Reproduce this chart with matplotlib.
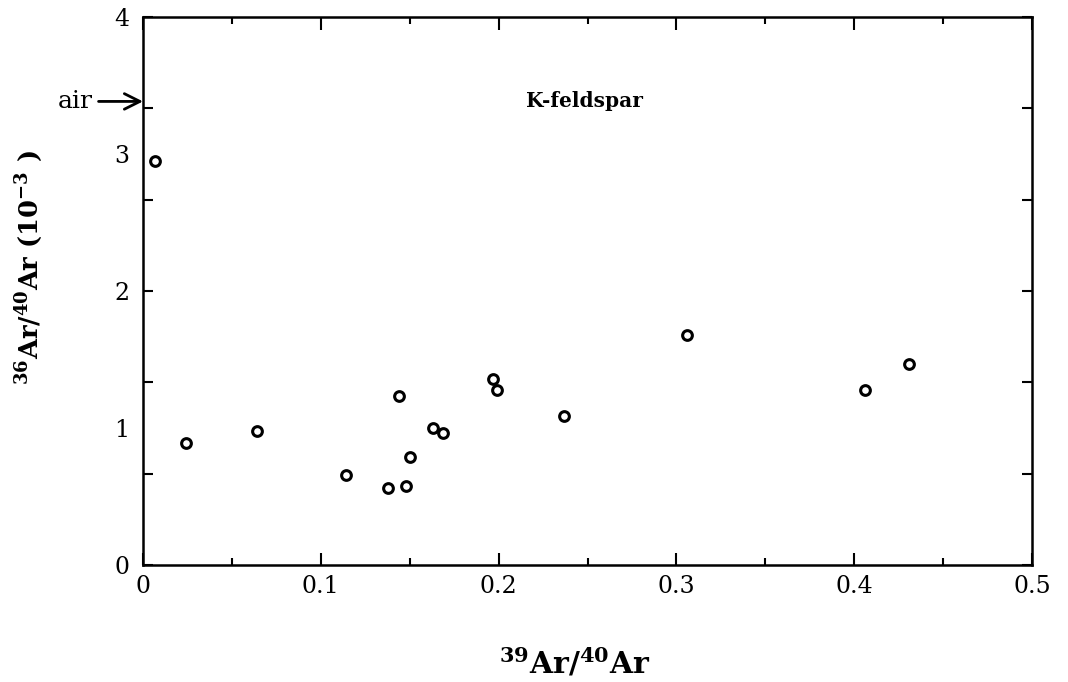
import numpy as np
import matplotlib
matplotlib.use("Agg")
import matplotlib.pyplot as plt
from matplotlib.ticker import FixedLocator, MultipleLocator

plt.rcParams['font.family'] = ['DejaVu Serif']
plt.rcParams['mathtext.fontset'] = 'dejavuserif'
plt.rcParams['mathtext.default'] = 'bf'

# data: 39Ar/40Ar vs 36Ar/40Ar (10^-3)
x_vals = [0.007, 0.024, 0.064, 0.114, 0.138, 0.144, 0.148, 0.150, 0.163, 0.169,
          0.197, 0.199, 0.237, 0.306, 0.406, 0.431]
y_vals = [2.95, 0.89, 0.98, 0.66, 0.56, 1.23, 0.58, 0.79, 1.00, 0.96,
          1.36, 1.28, 1.09, 1.68, 1.28, 1.47]
air_value = 3.384
x_ticks = [0, 0.1, 0.2, 0.3, 0.4, 0.5]
x_tick_labels = ['0', '0.1', '0.2', '0.3', '0.4', '0.5']
y_ticks = [0, 1, 2, 3, 4]
y_tick_labels = ['0', '1', '2', '3', '4']

fig = plt.figure(figsize=(10.68, 6.82), dpi=100)
ax = fig.add_axes([0.1339, 0.1716, 0.8324, 0.8034])

ax.plot(x_vals, y_vals, linestyle='none', marker='o', ms=7, mfc='white',
        mec='black', mew=2.2)

ax.set_xlim(0, 0.5)
ax.set_ylim(0, 4)

for s in ax.spines.values():
    s.set_linewidth(1.8)

ax.set_xticks(x_ticks)
ax.set_xticklabels(x_tick_labels)
ax.xaxis.set_minor_locator(MultipleLocator(0.05))
ax.tick_params(axis='x', which='major', direction='in', length=9, width=1.5,
               top=True, labelsize=17, pad=7)
ax.tick_params(axis='x', which='minor', direction='in', length=5, width=1.5,
               top=True)

ax.set_yticks(y_ticks)
ax.set_yticklabels(y_tick_labels)
ax.yaxis.set_minor_locator(FixedLocator([i * 2 / 3 for i in range(7)]))
ax.yaxis.remove_overlapping_locs = False
ax.tick_params(axis='y', which='major', direction='in', length=0,
               labelsize=17, pad=10)
ax.tick_params(axis='y', which='minor', direction='in', length=7, width=1.5,
               right=True)

ax.text(0.248, 3.39, 'K-feldspar', fontsize=14.5, fontweight='bold',
        ha='center', va='center')

ax.annotate('air', xy=(0, air_value), xytext=(-36, 0), textcoords='offset points',
            ha='right', va='center', fontsize=18,
            arrowprops=dict(arrowstyle='->', lw=2, mutation_scale=28,
                            shrinkA=2, shrinkB=0, color='black'),
            annotation_clip=False)

fig.text(0.027, 0.607, r'$^{36}$Ar/$^{40}$Ar (10$^{-3}$ )', rotation=90,
         fontsize=18.5, fontweight='bold', ha='center', va='center')
fig.text(0.538, 0.012, r'$^{39}$Ar/$^{40}$Ar', fontsize=21.5, fontweight='bold',
         ha='center', va='baseline')

fig.savefig('out.png', dpi=100)
